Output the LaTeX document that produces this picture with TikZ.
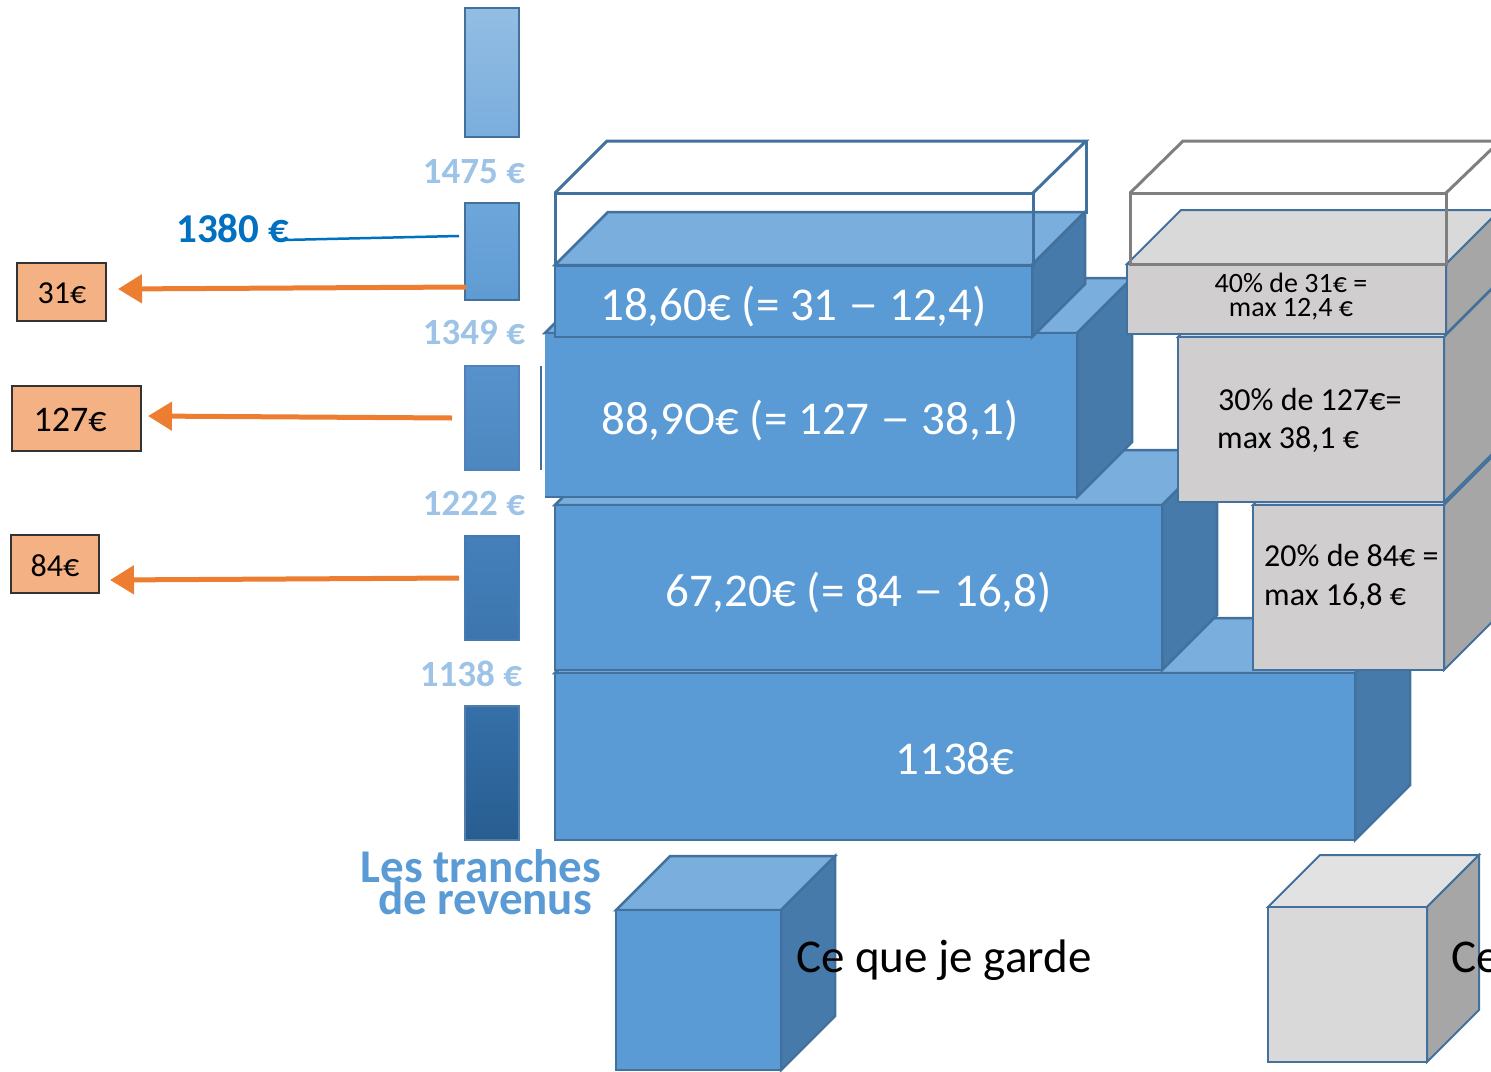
\documentclass[tikz,border=0pt]{standalone}
\usepackage{fontspec}
\setmainfont{Carlito}
\usetikzlibrary{arrows.meta}
\definecolor{bfront}{HTML}{5B9BD5}
\definecolor{btop}{HTML}{7AAEDD}
\definecolor{bside}{HTML}{467AAB}
\definecolor{bline}{HTML}{41719C}
\definecolor{gfront}{HTML}{D0CECE}
\definecolor{gtop}{HTML}{D9D9D9}
\definecolor{gside}{HTML}{A6A6A6}
\definecolor{lgfront}{HTML}{D9D9D9}
\definecolor{lgtop}{HTML}{E2E2E2}
\definecolor{gwire}{HTML}{7F7F7F}
\definecolor{lblue}{HTML}{9DC3E6}
\definecolor{dblue}{HTML}{0070C0}
\definecolor{midblue}{HTML}{5B9BD5}
\definecolor{orfill}{HTML}{F4B183}
\definecolor{orline}{HTML}{ED7D31}
\newcommand{\cub}[8]{%
  \filldraw[#2] (#4,#5) -- (#4+#8,#5-#8) -- (#6+#8,#5-#8) -- (#6,#5) -- cycle;
  \filldraw[#3] (#6,#5) -- (#6+#8,#5-#8) -- (#6+#8,#7-#8) -- (#6,#7) -- cycle;
  \filldraw[#1] (#4,#5) rectangle (#6,#7);}
\newcommand{\wdash}{\raisebox{1pt}{\scalebox{1.3}[1]{–}}}
\begin{document}
\begin{tikzpicture}[x=1pt,y=-1pt,
  bf/.style={fill=bfront,draw=bline,line width=2.5pt},
  bt/.style={fill=btop,draw=bline,line width=2.5pt},
  bs/.style={fill=bside,draw=bline,line width=2.5pt},
  gf/.style={fill=gfront,draw=bline,line width=2pt},
  gt/.style={fill=gtop,draw=bline,line width=2pt},
  gs/.style={fill=gside,draw=bline,line width=2pt},
  lgf/.style={fill=lgfront,draw=bline,line width=2pt},
  lgt/.style={fill=lgtop,draw=bline,line width=2pt},
  wire/.style={draw=bline,line width=3pt},
  gwirest/.style={draw=gwire,line width=3pt},
  barseg/.style={draw=bline,line width=1.5pt,inner sep=0pt,outer sep=0pt,minimum width=54pt,anchor=north west},
  barlbl/.style={text=lblue,inner sep=0pt,anchor=base,font=\fontsize{37}{37}\selectfont\bfseries},
  wt/.style={text=white,inner sep=0pt,anchor=base,font=\fontsize{47}{47}\selectfont},
  gtxt/.style={text=black,inner sep=0pt,font=\fontsize{32}{32}\selectfont},
  obox/.style={fill=orfill,draw=black!80,line width=1.2pt,inner sep=0pt,outer sep=0pt},
  otxt/.style={text=black,inner sep=0pt,anchor=base,font=\fontsize{32}{32}\selectfont},
  orarrow/.style={draw=orline,line width=5pt,-{Triangle[length=24pt,width=28pt]}}
]
\useasboundingbox (0,0) rectangle (1491,1071);
\clip (0,0) rectangle (1491,1071);

% vertical bar of income brackets
\node[barseg,minimum height=129pt,top color={rgb,255:red,147;green,189;blue,227},bottom color={rgb,255:red,122;green,174;blue,221}] (s1) at (465,8) {};
\node[barseg,minimum height=97pt,top color={rgb,255:red,110;green,166;blue,218},bottom color={rgb,255:red,95;green,155;blue,211}] (s2) at (465,203) {};
\node[barseg,minimum height=104pt,draw={rgb,255:red,80;green,130;blue,185},top color={rgb,255:red,88;green,146;blue,204},bottom color={rgb,255:red,77;green,135;blue,192}] (s3) at (465,366) {};
\node[barseg,minimum height=104pt,draw={rgb,255:red,70;green,122;blue,180},top color={rgb,255:red,69;green,128;blue,187},bottom color={rgb,255:red,61;green,118;blue,174}] (s4) at (465,536) {};
\node[barseg,minimum height=134pt,draw={rgb,255:red,80;green,125;blue,170},top color={rgb,255:red,53;green,112;blue,168},bottom color={rgb,255:red,40;green,93;blue,144}] (s5) at (465,706) {};

\node[barlbl] (l1475) at (474,183) {1475 €};
\node[barlbl] (l1349) at (474,344) {1349 €};
\node[barlbl] (l1222) at (474,515) {1222 €};
\node[barlbl] (l1138) at (471,686) {1138 €};

\node[text=dblue,inner sep=0pt,anchor=base,font=\fontsize{41}{41}\selectfont\bfseries] (l1380) at (233,242) {1380 €};
\coordinate (c1380a) at (283,240);
\coordinate (c1380b) at (459,236);
\draw[dblue,line width=2.5pt] (c1380a) -- (c1380b);

% orange boxes and arrows
\node[obox,minimum width=89pt,minimum height=58pt] (ob31) at (61.5,292) {};
\node[otxt] (t31) at (62,303) {31€};
\node[obox,minimum width=129pt,minimum height=65pt] (ob127) at (76.5,418.5) {};
\node[otxt,font=\fontsize{36}{36}\selectfont] (t127) at (70,431) {127€};
\node[obox,minimum width=88pt,minimum height=58pt] (ob84) at (55,564) {};
\node[otxt] (t84) at (55,576) {84€};

\coordinate (a1s) at (466,287); \coordinate (a1e) at (118,289);
\coordinate (a2s) at (452,418); \coordinate (a2e) at (148,416);
\coordinate (a3s) at (459,578); \coordinate (a3e) at (110,580);
\draw[orarrow] (a1s) -- (a1e);
\draw[orarrow] (a2s) -- (a2e);
\draw[orarrow] (a3s) -- (a3e);

% blue blocks (what I keep)
\cub{bf}{bt}{bs}{555}{673}{1355}{840}{55}
\cub{bf}{bt}{bs}{555}{505}{1162}{670}{55}
% 88,90 block (no left border)
\filldraw[bt] (545,333) -- (600,278) -- (1132,278) -- (1077,333) -- cycle;
\filldraw[bs] (1077,333) -- (1132,278) -- (1132,442) -- (1077,497) -- cycle;
\fill[bfront] (545,333) rectangle (1077,497);
\draw[bline,line width=2.5pt] (545,333) -- (1077,333) -- (1077,497) -- (545,497);
\draw[bline,line width=2.5pt] (541,366) -- (541,470);
\cub{bf}{bt}{bs}{555}{265}{1032}{337}{53}
% blue wireframe
\draw[wire] (555,193) rectangle (1033,265);
\draw[wire] (555,193) -- (607,141) -- (1086,141) -- (1033,193);
\draw[wire] (1086,141) -- (1086,214);

\node[wt] (t1138) at (955,774) {1138€};
\node[wt] (t6720) at (858.5,606) {67,20€ (= 84 \wdash{} 16,8)};
\node[wt] (t8890) at (810,434) {88,9O€ (= 127 \wdash{} 38,1)};
\node[wt] (t1860) at (793.5,320) {18,60€ (= 31 \wdash{} 12,4)};

% grey blocks (what I pay)
\cub{gf}{gt}{gs}{1253}{505}{1444}{670}{54}
\cub{gf}{gt}{gs}{1178}{337}{1444}{502}{54}
\cub{gf}{gt}{gs}{1127}{264}{1446}{334}{54}
\draw[gwirest] (1130,193) rectangle (1446,264);
\draw[gwirest] (1130,193) -- (1183,141) -- (1500,141) -- (1446,193);
\draw[gwirest] (1500,141) -- (1500,212);

\node[gtxt,anchor=base,font=\fontsize{28}{28}\selectfont] (g1a) at (1291,292) {40\% de 31€ =};
\node[gtxt,anchor=base,font=\fontsize{28}{28}\selectfont] (g1b) at (1291,316) {max 12,4 €};
\node[gtxt,anchor=base west] (g2a) at (1218,410) {30\% de 127€=};
\node[gtxt,anchor=base west] (g2b) at (1217,448) {max 38,1 €};
\node[gtxt,anchor=base west] (g3a) at (1264,566) {20\% de 84€ =};
\node[gtxt,anchor=base west] (g3b) at (1264,605) {max 16,8 €};

% title
\node[text=midblue,inner sep=0pt,anchor=base,font=\fontsize{47}{47}\selectfont\bfseries] (tr1) at (481,882) {Les tranches};
\node[text=midblue,inner sep=0pt,anchor=base,font=\fontsize{47}{47}\selectfont\bfseries] (tr2) at (485,914) {de revenus};

% legend
\cub{bf}{bt}{bs}{616}{910}{781}{1070}{54}
\cub{lgf}{lgt}{gs}{1268}{907}{1427}{1062}{52}
\node[text=black,inner sep=0pt,anchor=base west,font=\fontsize{47}{47}\selectfont] (lg1) at (796,972) {Ce que je garde};
\node[text=black,inner sep=0pt,anchor=base west,font=\fontsize{47}{47}\selectfont] (lg2) at (1451,972) {Ce};
\end{tikzpicture}
\end{document}
